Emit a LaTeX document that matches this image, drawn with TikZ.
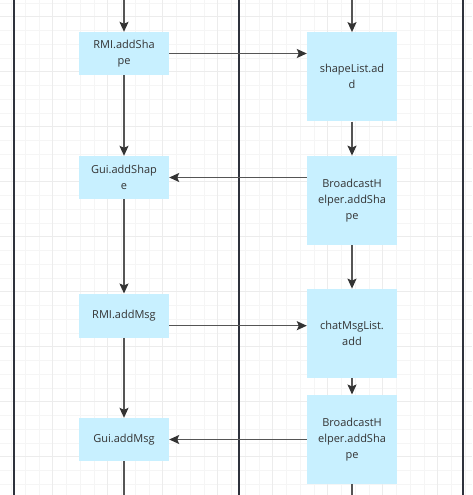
\documentclass[tikz,border=0pt]{standalone}
\usepackage{fontspec}
\setmainfont{Open Sans}
\usetikzlibrary{arrows.meta}
\definecolor{boxfill}{HTML}{C8F0FF}
\definecolor{txtcol}{HTML}{333333}
\definecolor{linecol}{HTML}{555555}
\definecolor{tipcol}{HTML}{333333}
\definecolor{lanecol}{HTML}{2E323C}
\definecolor{gridminor}{HTML}{F5F5F5}
\definecolor{gridmajor}{HTML}{ECECEC}
\begin{document}
\begin{tikzpicture}[x=1pt,y=-1pt,
  box/.style={fill=boxfill,text=txtcol,align=center,inner sep=0pt,
    minimum width=90pt,font=\fontsize{11}{16}\selectfont},
  shortbox/.style={box,minimum height=43pt},
  tallbox/.style={box,minimum height=89pt},
  flow/.style={draw=linecol,line width=1.3pt,-{Stealth[length=10pt,width=9pt,inset=2pt,color=tipcol]}},
  lane/.style={draw=lanecol,line width=2pt}]
  % 背景
  \fill[white] (0,0) rectangle (472,495);
  \useasboundingbox (0,0) rectangle (472,495);
  % 网格
  \foreach \i in {0,...,34}
    \draw[gridminor,line width=0.8pt] (11.45+13.75*\i,0) -- (11.45+13.75*\i,495);
  \foreach \i in {0,...,35}
    \draw[gridminor,line width=0.8pt] (0,2.95+13.75*\i) -- (472,2.95+13.75*\i);
  \foreach \i in {0,...,7}
    \draw[gridmajor,line width=1pt] (52.7+55*\i,0) -- (52.7+55*\i,495);
  \foreach \i in {0,...,8}
    \draw[gridmajor,line width=1pt] (0,16.7+55*\i) -- (472,16.7+55*\i);
  % 泳道
  \draw[lane] (14,0) -- (14,495);
  \draw[lane] (239,0) -- (239,495);
  \draw[lane] (463,0) -- (463,495);
  % 左列
  \node[shortbox] (rmiShape) at (124,53.5) {RMI.addSha\\pe};
  \node[shortbox] (guiShape) at (124,177.5) {Gui.addShap\\e};
  \node[shortbox,minimum height=44pt] (rmiMsg) at (124,315.7) {RMI.addMsg};
  \node[shortbox] (guiMsg) at (124,439.5) {Gui.addMsg};
  % 右列
  \node[tallbox] (listShape) at (352,76.8) {shapeList.ad\\d};
  \node[tallbox] (helperShape) at (352,200.3) {BroadcastH\\elper.addSha\\pe};
  \node[tallbox] (listMsg) at (352,333.3) {chatMsgList.\\add};
  \node[tallbox] (helperMsg) at (352,439.2) {BroadcastH\\elper.addSha\\pe};
  % 端点
  \coordinate (leftTop) at (124,0);
  \coordinate (rightTop) at (352,0);
  \coordinate (leftEnd) at (124,495);
  \coordinate (rightEnd) at (352,495);
  % 竖向箭头
  \draw[flow] (leftTop) -- (rmiShape);
  \draw[flow] (rmiShape) -- (guiShape);
  \draw[flow] (guiShape) -- (rmiMsg);
  \draw[flow] (rmiMsg) -- (guiMsg);
  \draw[draw=linecol,line width=1.3pt] (guiMsg) -- (leftEnd);
  \draw[flow] (rightTop) -- (listShape);
  \draw[flow] (listShape) -- (helperShape);
  \draw[flow] (helperShape) -- (listMsg);
  \draw[flow] (listMsg) -- (helperMsg);
  \draw[draw=linecol,line width=1.3pt] (helperMsg) -- (rightEnd);
  % 横向箭头
  \draw[flow] (rmiShape.east) -- (rmiShape.east -| listShape.west);
  \draw[flow] (guiShape.east -| helperShape.west) -- (guiShape.east);
  \draw[flow] ([yshift=-10pt]rmiMsg.east) -- ([yshift=-10pt]rmiMsg.east -| listMsg.west);
  \draw[flow] (guiMsg.east -| helperMsg.west) -- (guiMsg.east);
\end{tikzpicture}
\end{document}
